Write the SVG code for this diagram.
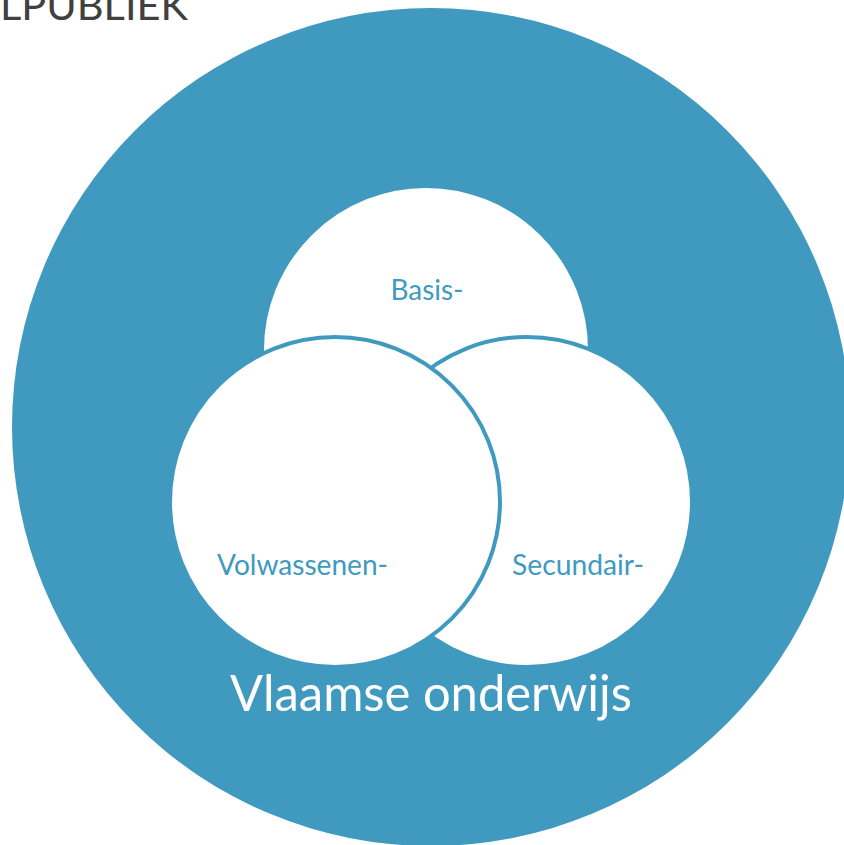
<svg xmlns="http://www.w3.org/2000/svg" width="844" height="845" viewBox="0 0 844 845">
<style>
.set{fill:#ffffff;stroke:#409ABF;stroke-width:4}
.lbl{font-family:"Lato","Open Sans","DejaVu Sans",sans-serif;fill:#409ABF;font-size:28px;text-anchor:middle}
.big{font-family:"Lato","Open Sans","DejaVu Sans",sans-serif;fill:#ffffff;font-size:50px;text-anchor:middle}
.title{font-family:"Lato","Open Sans","DejaVu Sans",sans-serif;fill:#404040;font-size:40px}
</style>
<rect width="844" height="845" fill="#ffffff"/>
<text class="title" x="0" y="20" textLength="188" lengthAdjust="spacingAndGlyphs">LPUBLIEK</text>
<g id="vlaamse-onderwijs">
<circle cx="431" cy="427" r="419" fill="#409ABF"/>
</g>
<g id="basis">
<circle class="set" cx="426" cy="350" r="164"/>
<text class="lbl" x="427" y="300" textLength="73" lengthAdjust="spacingAndGlyphs">Basis-</text>
</g>
<g id="secundair">
<circle class="set" cx="527" cy="502" r="165"/>
</g>
<g id="volwassenen">
<circle class="set" cx="335" cy="502" r="165"/>
<text class="lbl" x="302.5" y="575" textLength="171" lengthAdjust="spacingAndGlyphs">Volwassenen-</text>
</g>
<text class="lbl" x="578" y="575" textLength="132" lengthAdjust="spacingAndGlyphs">Secundair-</text>
<text class="big" x="431" y="711" textLength="402" lengthAdjust="spacingAndGlyphs">Vlaamse onderwijs</text>
<g id="connectors"/>
</svg>
